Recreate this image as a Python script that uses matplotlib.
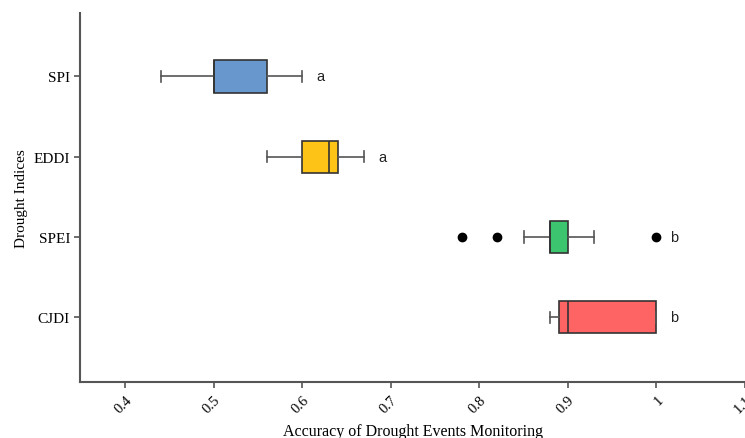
import matplotlib
matplotlib.use("Agg")
import matplotlib.pyplot as plt

categories = ["SPI", "EDDI", "SPEI", "CJDI"]
whislo = [0.44, 0.56, 0.85, 0.88]
q1 = [0.50, 0.60, 0.88, 0.89]
med = [0.50, 0.63, 0.88, 0.90]
q3 = [0.56, 0.64, 0.90, 1.00]
whishi = [0.60, 0.67, 0.93, 1.00]
fliers = [[], [], [0.78, 0.82, 1.00], []]
letters = ["a", "a", "b", "b"]
colors = ["#6797CD", "#FDC316", "#3DC46F", "#FF6464"]
xticks = [0.4, 0.5, 0.6, 0.7, 0.8, 0.9, 1.0, 1.1]
xticklabels = ["0.4", "0.5", "0.6", "0.7", "0.8", "0.9", "1", "1.1"]

serif = ["Liberation Serif", "DejaVu Serif"]

fig = plt.figure(figsize=(7.45, 4.39), dpi=100)
ax = fig.add_axes([0.108, 0.127, 0.892, 0.841])

n = len(categories)
positions = [n - i for i in range(n)]
stats = []
for i in range(n):
    stats.append(dict(label=categories[i], whislo=whislo[i], q1=q1[i], med=med[i],
                      q3=q3[i], whishi=whishi[i], fliers=fliers[i]))

bp = ax.bxp(stats, positions=positions, vert=False, widths=0.4, patch_artist=True,
            showcaps=True,
            boxprops=dict(edgecolor="#333333", linewidth=1.2),
            medianprops=dict(color="#333333", linewidth=1.2),
            whiskerprops=dict(color="#555555", linewidth=1.2),
            capprops=dict(color="#555555", linewidth=1.2),
            flierprops=dict(marker="o", markerfacecolor="black", markeredgecolor="black",
                            markersize=6))
for patch, c in zip(bp["boxes"], colors):
    patch.set_facecolor(c)
for cap in bp["caps"]:
    y = cap.get_ydata()
    ym = (y[0] + y[1]) / 2
    cap.set_ydata([ym - 0.07, ym + 0.07])

for i in range(n):
    xmax = max([whishi[i]] + fliers[i])
    ax.text(xmax + 0.02, positions[i], letters[i], ha="center", va="center",
            fontsize=10.5, family=["Liberation Sans", "DejaVu Sans"], color="#222222")

ax.set_xlim(0.3495, 1.1)
ax.set_ylim(0.19, 4.79)
ax.set_yticks(positions)
ax.set_yticklabels(categories, family=serif, fontsize=11)
ax.set_xticks(xticks)
ax.set_xticklabels(xticklabels, family=serif, fontsize=10.5, rotation=45,
                   ha="right", rotation_mode="anchor")
ax.tick_params(axis="both", color="#555555", width=1.2, length=4)
ax.set_xlabel("Accuracy of Drought Events Monitoring", family=serif, fontsize=11.5,
              labelpad=6)
ax.set_ylabel("Drought Indices", family=serif, fontsize=11)
for s in ["top", "right"]:
    ax.spines[s].set_visible(False)
for s in ["left", "bottom"]:
    ax.spines[s].set_color("#555555")
    ax.spines[s].set_linewidth(1.5)

fig.savefig("out.png", dpi=100)
